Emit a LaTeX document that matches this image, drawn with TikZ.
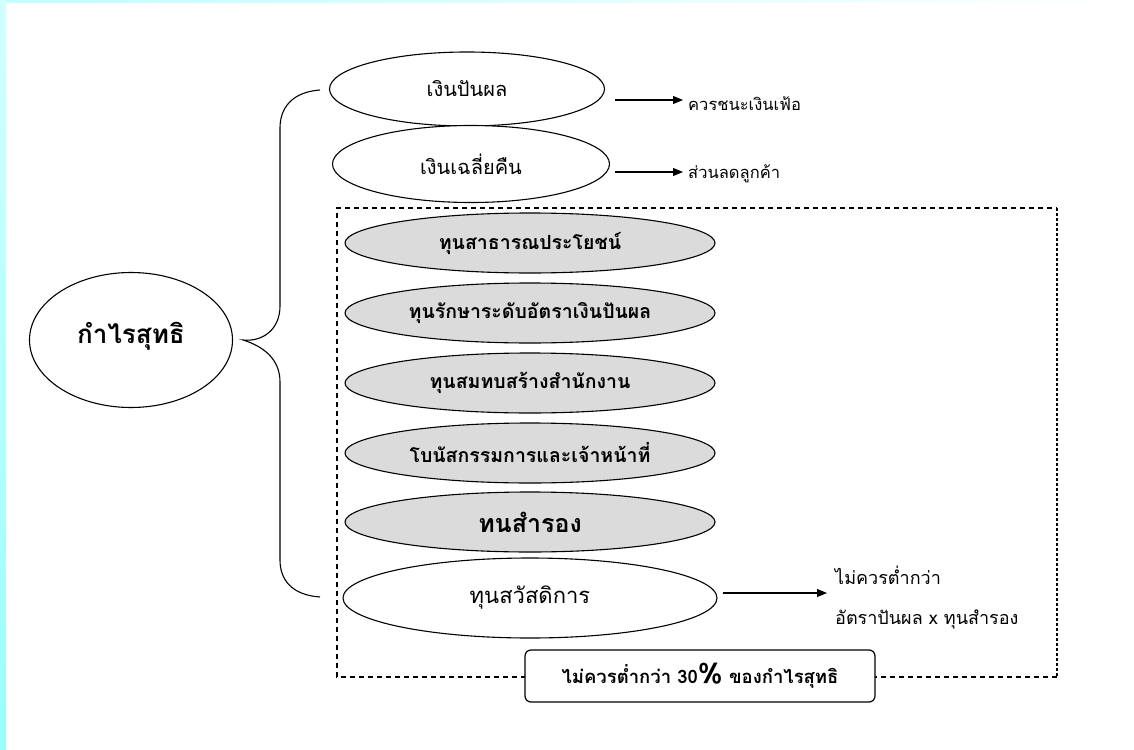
\documentclass[tikz,border=0pt]{standalone}
\usepackage{fontspec}
\newfontfamily\thai[Script=Thai]{Loma}
\usetikzlibrary{shapes.geometric,arrows.meta,calc}
\begin{document}
\begin{tikzpicture}[x=1pt,y=-1pt,
  oval/.style={draw, ellipse, line width=1.1pt, inner sep=0pt},
  wov/.style={oval, fill=white, font=\thai\fontsize{20}{24}\selectfont},
  gov/.style={oval, fill=black!14, minimum width=370pt, minimum height=60pt, font=\thai\bfseries\fontsize{19.5}{22}\selectfont},
  arr/.style={-{Triangle[length=10pt,width=8pt]}, line width=1.1pt},
  lab/.style={anchor=west, inner sep=0pt, font=\thai\fontsize{16.5}{24}\selectfont, align=left},
  dbox/.style={line width=1.2pt, dash pattern=on 5pt off 4pt},
  dotbox/.style={line width=2.4pt, dash pattern=on 3pt off 2pt},
]
\useasboundingbox (0,0) rectangle (1134,749);
\fill[white] (0,0) rectangle (1134,749);
\shade[left color=cyan!25, right color=white] (0,0) rectangle (1134,3);
\shade[top color=cyan!18, bottom color=cyan!40] (0,0) rectangle (6,749);

% dashed frame
\coordinate (bl) at (337,677);
\coordinate (tl) at (337,208);
\coordinate (tr) at (1057,208);
\coordinate (br) at (1057,677);
\draw[dbox] (br) -- (bl) -- (tl) -- (tr);
\draw[dotbox] (tr) -- (br);

% main node
\node[oval, fill=white, minimum width=203pt, minimum height=135pt, text depth=14pt,
      font=\thai\bfseries\fontsize{26}{30}\selectfont] (np) at (131,340) {กำไรสุทธิ};

% brace
\coordinate (btip) at ([xshift=10pt]np.east);
\draw[line width=1.1pt] (320,90) .. controls (292,92) and (280,108) .. (280,128)
  -- (280,306) .. controls (280,330) and (262,342) .. (btip)
  .. controls (262,346) and (280,358) .. (280,382)
  -- (280,560) .. controls (280,580) and (292,595) .. (320,597);

% white ellipses
\node[wov, minimum width=275pt, minimum height=74pt] (e1) at (467,89) {เงินปันผล};
\node[wov, minimum width=277pt, minimum height=77pt] (e2) at (471,164) {เงินเฉลี่ยคืน};

% grey ellipses
\node[gov] (g1) at (530,243) {ทุนสาธารณประโยชน์};
\node[gov] (g2) at (530,313) {ทุนรักษาระดับอัตราเงินปันผล};
\node[gov] (g3) at (530,383) {ทุนสมทบสร้างสำนักงาน};
\node[gov] (g4) at (530,453) {โบนัสกรรมการและเจ้าหน้าที่};
\node[gov, font=\thai\bfseries\fontsize{25}{28}\selectfont] (g5) at (530,522) {ทนสำรอง};

\node[wov, minimum width=374pt, minimum height=80pt, font=\thai\fontsize{22}{26}\selectfont] (e3) at (530,598) {ทุนสวัสดิการ};

% labels and arrows
\node[lab] (t1) at (688,104) {ควรชนะเงินเฟ้อ};
\node[lab] (t2) at (688,174) {ส่วนลดลูกค้า};
\node[lab, font=\thai\fontsize{18}{40}\selectfont] (t3) at (835,598) {ไม่ควรต่ำกว่า\\อัตราปันผล x ทุนสำรอง};

\draw[arr] ($(e1.east |- t1.west)+(10,-4)$) -- ($(t1.west)+(-5,-4)$);
\draw[arr] ($(e2.east |- t2.west)+(5,-2)$) -- ($(t2.west)+(-5,-2)$);
\draw[arr] ($(e3.east |- t3.west)+(5,-5)$) -- ($(t3.west)+(-8,-5)$);

% bottom box
\node[draw, rounded corners=6pt, fill=white, line width=1.2pt, minimum width=350pt, minimum height=52pt,
      font=\thai\bfseries\fontsize{18.5}{22}\selectfont] (nb) at (700,676)
      {ไม่ควรต่ำกว่า 30{\fontsize{28}{28}\selectfont\%} ของกำไรสุทธิ};
\end{tikzpicture}
\end{document}
